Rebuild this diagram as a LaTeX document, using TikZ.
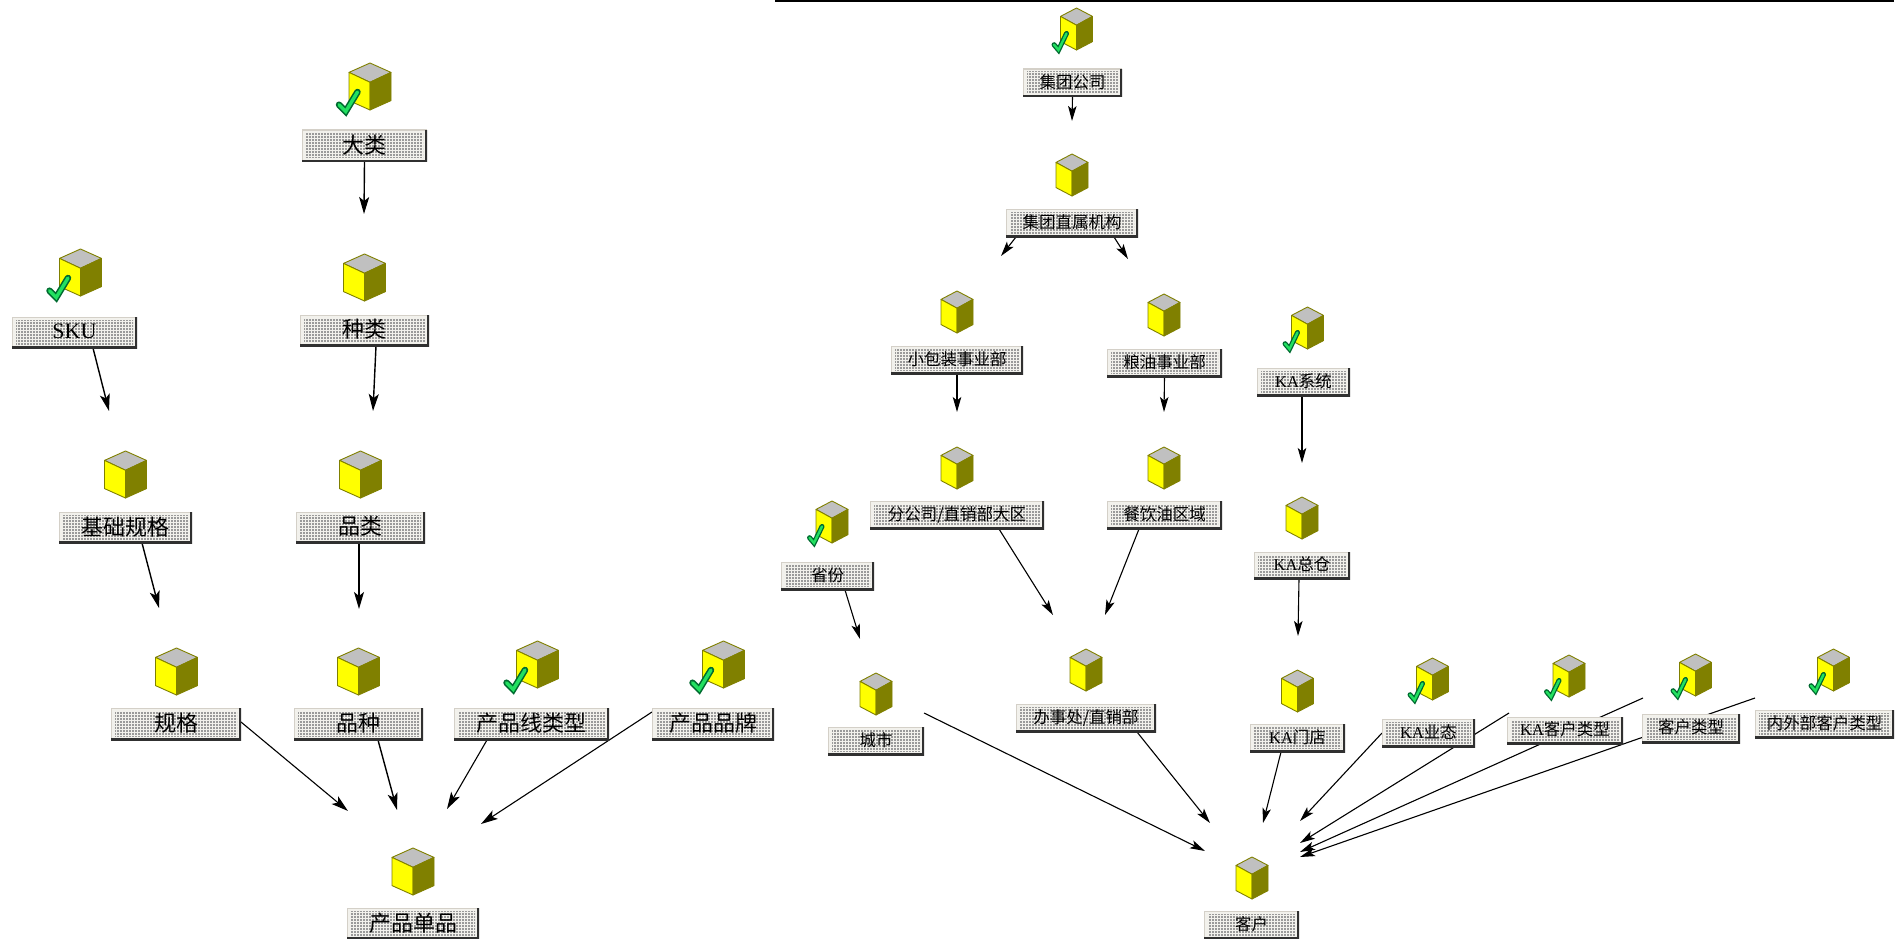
\documentclass[tikz,border=0pt]{standalone}
\usepackage{fontspec}
\setmainfont{Noto Sans CJK SC}
\newfontfamily\latf{Liberation Serif}
\usetikzlibrary{arrows.meta,patterns,backgrounds}
\pgfdeclarepatternformonly{boxdots}{\pgfqpoint{-0.2pt}{-0.2pt}}{\pgfqpoint{3.2pt}{3.2pt}}{\pgfqpoint{3pt}{3pt}}{%
  \pgfpathrectangle{\pgfqpoint{0pt}{0pt}}{\pgfqpoint{1.5pt}{1.5pt}}\pgfusepath{fill}}
\definecolor{cubetop}{HTML}{C0C0C0}
\definecolor{cubeleft}{HTML}{FFFF00}
\definecolor{cuberight}{HTML}{808000}
\definecolor{boxface}{HTML}{F2F1EC}
\definecolor{boxdot}{HTML}{9A9A9A}
\definecolor{boxedge}{HTML}{D4D0C8}
\definecolor{boxshade}{HTML}{303030}
\definecolor{checkdark}{HTML}{006A30}
\definecolor{checklight}{HTML}{22E060}
\tikzset{
  entbox/.style={rectangle,inner sep=0pt,outer sep=0pt,
    path picture={
      \fill[boxface] (path picture bounding box.south west) rectangle (path picture bounding box.north east);
      \fill[pattern=boxdots,pattern color=boxdot]
        ([xshift=4pt,yshift=4pt]path picture bounding box.south west) rectangle
        ([xshift=-4pt,yshift=-3pt]path picture bounding box.north east);
      \draw[boxedge,line width=2.4pt] (path picture bounding box.south west) -- (path picture bounding box.north west) -- (path picture bounding box.north east);
      \draw[boxshade,line width=3.6pt] (path picture bounding box.south west) -- (path picture bounding box.south east) -- (path picture bounding box.north east);
    }},
  bigbox/.style={entbox,font=\fontsize{22}{24}\selectfont},
  smallbox/.style={entbox,font=\fontsize{16.5}{18}\selectfont},
  cubeline/.style={draw=cuberight,line width=0.9pt,line join=round},
  pics/cubeicon/.style 2 args={code={
    \path[cubeline,fill=cubetop] (0,0)--(#1,{.2*#2})--(0,{.41*#2})--(-#1,{.2*#2})--cycle;
    \path[cubeline,fill=cubeleft] (-#1,{.2*#2})--(0,{.41*#2})--(0,#2)--(-#1,{.8*#2})--cycle;
    \path[cubeline,fill=cuberight] (#1,{.2*#2})--(0,{.41*#2})--(0,#2)--(#1,{.8*#2})--cycle;
  }},
  pics/bigcube/.style={code={\pic {cubeicon={21}{47}};}},
  pics/smallcube/.style={code={\pic {cubeicon={16}{42}};}},
  checkstroke/.style={line join=miter,line cap=round},
  pics/bigok/.style={code={\pic {cubeicon={21}{47}};
    \draw[checkstroke,checkdark,line width=6.5pt] (-31,41.7)--(-24.3,48.5)--(-12.5,29);
    \draw[checkstroke,checklight,line width=3.4pt] (-31,41.7)--(-24.3,48.5)--(-12.5,29);}},
  pics/smallok/.style={code={\pic {cubeicon={16}{42}};
    \draw[checkstroke,checkdark,line width=5pt] (-22.5,36.7)--(-18,42)--(-10,25.5);
    \draw[checkstroke,checklight,line width=2.4pt] (-22.5,36.7)--(-18,42)--(-10,25.5);}},
  bigedge/.style={draw=black,line width=1.4pt,-{Stealth[length=17pt,width=10pt,inset=4pt]}},
  smalledge/.style={draw=black,line width=1.1pt,-{Stealth[length=15pt,width=8.5pt,inset=3.5pt]}},
}
\newcommand\ent[7]{%
  \pgfmathsetmacro\entcx{(#3+#5)/2}\pgfmathsetmacro\entcy{(#4+#6)/2}%
  \node[#1,minimum width={(#5-#3)*1pt},minimum height={(#6-#4)*1pt}] (#2) at (\entcx,\entcy) {\raisebox{3.5pt}{#7}};}
\begin{document}
\begin{tikzpicture}[x=1pt,y=-1pt]
\useasboundingbox (0,0) rectangle (1899,939);
% frame line at the top of the right-hand window
\coordinate (frameL) at (775,0.8);
\coordinate (frameR) at (1894,0.8);
\draw[black,line width=1.6pt] (frameL) -- (frameR);
% ---- left diagram: icons
\pic at (370,63) {bigok};
\pic at (80.5,249) {bigok};
\pic at (364.5,254) {bigcube};
\pic at (125.5,451) {bigcube};
\pic at (360.5,451) {bigcube};
\pic at (176.5,648) {bigcube};
\pic at (358.5,648) {bigcube};
\pic at (537.5,641) {bigok};
\pic at (723.5,641) {bigok};
\pic at (413,848) {bigcube};
% ---- left diagram: boxes
\ent{bigbox}{dalei}{302}{130}{427}{162}{大类}
\ent{bigbox}{zhonglei}{300}{315}{429}{346}{种类}
\ent{bigbox}{sku}{12}{317}{137}{348}{\latf SKU}
\ent{bigbox}{jichu}{59}{512}{192}{543}{基础规格}
\ent{bigbox}{pinlei}{296}{512}{425}{543}{品类}
\ent{bigbox}{guige}{111}{708}{241}{740}{规格}
\ent{bigbox}{pinzhong}{294}{708}{423}{740}{品种}
\ent{bigbox}{xianlei}{454}{708}{609}{740}{产品线类型}
\ent{bigbox}{pinpai}{652}{708}{774}{740}{产品品牌}
\ent{bigbox}{danpin}{347}{908}{479}{939}{产品单品}
% ---- right diagram: icons
\pic at (1076.5,8) {smallok};
\pic at (1072,154) {smallcube};
\pic at (957,291) {smallcube};
\pic at (1164,294) {smallcube};
\pic at (1307.5,307) {smallok};
\pic at (957,447) {smallcube};
\pic at (1164,447) {smallcube};
\pic at (832,501) {smallok};
\pic at (1302,497) {smallcube};
\pic at (876,673) {smallcube};
\pic at (1086,649) {smallcube};
\pic at (1297.5,670) {smallcube};
\pic at (1252,857) {smallcube};
\pic at (1432.5,658) {smallok};
\pic at (1569,655) {smallok};
\pic at (1695.5,654) {smallok};
\pic at (1833.5,649) {smallok};
% ---- right diagram: boxes
\ent{smallbox}{jituan}{1023}{69}{1122}{97}{集团公司}
\ent{smallbox}{zhishu}{1006}{209}{1138}{237}{集团直属机构}
\ent{smallbox}{xiaobao}{891}{346}{1023}{374}{小包装事业部}
\ent{smallbox}{liangyou}{1107}{349}{1222}{377}{粮油事业部}
\ent{smallbox}{kaxt}{1257}{368}{1350}{396}{{\latf KA}系统}
\ent{smallbox}{fengs}{870}{501}{1044}{529}{分公司/直销部大区}
\ent{smallbox}{canyin}{1107}{501}{1222}{529}{餐饮油区域}
\ent{smallbox}{shengfen}{781}{562}{874}{590}{省份}
\ent{smallbox}{kazc}{1254}{552}{1350}{579}{{\latf KA}总仓}
\ent{smallbox}{chengshi}{828}{727}{924}{755}{城市}
\ent{smallbox}{banshi}{1016}{704}{1156}{732}{办事处/直销部}
\ent{smallbox}{kamd}{1250}{724}{1345}{752}{{\latf KA}门店}
\ent{smallbox}{kehu}{1204}{911}{1299}{939}{客户}
\ent{smallbox}{kayt}{1382}{719}{1475}{747}{{\latf KA}业态}
\ent{smallbox}{kakh}{1507}{717}{1623}{744}{{\latf KA}客户类型}
\ent{smallbox}{khlx}{1642}{714}{1740}{743}{客户类型}
\ent{smallbox}{nwkh}{1755}{710}{1894}{738}{内外部客户类型}
% ---- free arrow ends
\foreach \n/\px/\py in {
  e1/364/214, e2/373/411, e3/109/411, e4/159/608, e5/359/609,
  e6/348/811, e7/397/810, e8/447/809, e9/481/824,
  r1/1072/121, r2/1001/256, r3/1128/259, r4/957/412, r5/1164/412,
  r6/1302/463, r7/1053/615, r8/1105/615, r9/860/639, r10/1298/636,
  r11/1205/851, r12/1210/823, r13/1263/823, r14/1300/821,
  r15/1300/843, r16/1300/852, r17/1300/857}
  {\coordinate (\n) at (\px,\py);}
% ---- connectors, behind the boxes
\begin{scope}[on background layer]
\fill[white] (0,0) rectangle (1899,939);
\draw[bigedge] (dalei.south) -- (e1);
\draw[bigedge] ([xshift=11.5pt]zhonglei.south) -- (e2);
\draw[bigedge] ([xshift=18.5pt]sku.south) -- (e3);
\draw[bigedge] ([xshift=16.5pt]jichu.south) -- (e4);
\draw[bigedge] ([xshift=-1.5pt]pinlei.south) -- (e5);
\draw[bigedge,line width=1.1pt] ([yshift=2pt]guige.east) -- (e6);
\draw[bigedge] ([xshift=19.5pt]pinzhong.south) -- (e7);
\draw[bigedge,line width=1.1pt] ([xshift=-44.5pt]xianlei.south) -- (e8);
\draw[bigedge,line width=1.1pt] ([yshift=12pt]pinpai.west) -- (e9);
\draw[smalledge] (jituan.south) -- (r1);
\draw[smalledge] ([xshift=-56pt]zhishu.south) -- (r2);
\draw[smalledge] ([xshift=42pt]zhishu.south) -- (r3);
\draw[smalledge] (xiaobao.south) -- (r4);
\draw[smalledge] (liangyou.south) -- (r5);
\draw[smalledge] ([xshift=-1.5pt]kaxt.south) -- (r6);
\draw[smalledge] ([xshift=42pt]fengs.south) -- (r7);
\draw[smalledge] ([xshift=-25.5pt]canyin.south) -- (r8);
\draw[smalledge] ([xshift=17.5pt]shengfen.south) -- (r9);
\draw[smalledge] ([xshift=-3pt]kazc.south) -- (r10);
\draw[smalledge] ([yshift=14pt]chengshi.north east) -- (r11);
\draw[smalledge] ([xshift=51pt]banshi.south) -- (r12);
\draw[smalledge] ([xshift=-16.5pt]kamd.south) -- (r13);
\draw[smalledge] (kayt.west) -- (r14);
\draw[smalledge] ([xshift=2pt,yshift=4pt]kakh.north west) -- (r15);
\draw[smalledge] ([xshift=1pt,yshift=16pt]khlx.north west) -- (r16);
\draw[smalledge] ([yshift=12pt]nwkh.north west) -- (r17);
\end{scope}
\end{tikzpicture}
\end{document}
